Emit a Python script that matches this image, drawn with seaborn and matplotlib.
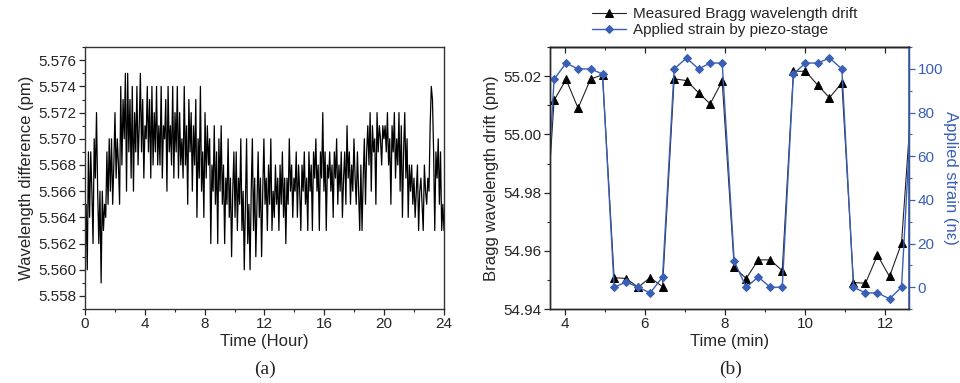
import seaborn as sns
import matplotlib.pyplot as plt
import numpy as np
from matplotlib.ticker import MultipleLocator

# (a) 24 h stability record, wavelength difference in pm
wavelength_diff = [
    5.560, 5.565, 5.560, 5.569, 5.564, 5.569, 5.566, 5.562, 5.570, 5.567, 5.572, 5.566, 5.562,
    5.566, 5.559, 5.566, 5.563, 5.565, 5.564, 5.569, 5.565, 5.570, 5.566, 5.570, 5.565, 5.568,
    5.572, 5.567, 5.570, 5.568, 5.565, 5.574, 5.568, 5.573, 5.570, 5.575, 5.566, 5.575, 5.569,
    5.573, 5.567, 5.574, 5.566, 5.572, 5.569, 5.574, 5.568, 5.571, 5.575, 5.569, 5.573, 5.567,
    5.571, 5.570, 5.574, 5.569, 5.573, 5.567, 5.574, 5.568, 5.572, 5.569, 5.574, 5.568, 5.571,
    5.568, 5.574, 5.567, 5.571, 5.570, 5.573, 5.566, 5.574, 5.569, 5.571, 5.568, 5.574, 5.567,
    5.572, 5.569, 5.574, 5.567, 5.572, 5.568, 5.570, 5.567, 5.574, 5.568, 5.571, 5.565, 5.573,
    5.569, 5.572, 5.566, 5.571, 5.568, 5.573, 5.564, 5.570, 5.567, 5.574, 5.566, 5.569, 5.564,
    5.572, 5.567, 5.571, 5.568, 5.570, 5.562, 5.568, 5.566, 5.571, 5.565, 5.569, 5.562, 5.570,
    5.566, 5.571, 5.565, 5.568, 5.562, 5.567, 5.565, 5.570, 5.564, 5.567, 5.561, 5.566, 5.569,
    5.564, 5.569, 5.563, 5.567, 5.565, 5.570, 5.563, 5.566, 5.560, 5.565, 5.570, 5.562, 5.565,
    5.560, 5.566, 5.570, 5.563, 5.567, 5.561, 5.565, 5.569, 5.564, 5.567, 5.561, 5.566, 5.570,
    5.565, 5.567, 5.563, 5.568, 5.565, 5.570, 5.563, 5.566, 5.564, 5.568, 5.565, 5.567, 5.563,
    5.568, 5.565, 5.569, 5.564, 5.567, 5.562, 5.567, 5.565, 5.570, 5.566, 5.568, 5.564, 5.567,
    5.566, 5.569, 5.564, 5.568, 5.566, 5.563, 5.568, 5.566, 5.569, 5.565, 5.567, 5.563, 5.569,
    5.566, 5.568, 5.563, 5.569, 5.567, 5.570, 5.566, 5.568, 5.563, 5.569, 5.567, 5.572, 5.566,
    5.569, 5.563, 5.568, 5.567, 5.569, 5.566, 5.568, 5.564, 5.569, 5.567, 5.570, 5.565, 5.568,
    5.566, 5.569, 5.564, 5.567, 5.569, 5.565, 5.571, 5.567, 5.569, 5.565, 5.568, 5.566, 5.570,
    5.567, 5.565, 5.569, 5.566, 5.563, 5.568, 5.563, 5.567, 5.570, 5.565, 5.569, 5.571, 5.568,
    5.572, 5.566, 5.571, 5.569, 5.570, 5.565, 5.572, 5.569, 5.571, 5.570, 5.568, 5.571, 5.570,
    5.571, 5.569, 5.572, 5.568, 5.570, 5.565, 5.571, 5.569, 5.572, 5.567, 5.570, 5.568, 5.572,
    5.566, 5.571, 5.564, 5.569, 5.572, 5.567, 5.570, 5.564, 5.568, 5.566, 5.568, 5.565, 5.567,
    5.564, 5.566, 5.568, 5.563, 5.566, 5.567, 5.565, 5.563, 5.568, 5.566, 5.565, 5.567, 5.566,
    5.571, 5.574, 5.573, 5.569, 5.563, 5.569, 5.567, 5.570, 5.565, 5.569, 5.563, 5.565, 5.563,
]
time_hour = np.linspace(0, 24, len(wavelength_diff))

# (b) strain steps from the piezo stage
time_min = [3.43, 3.73, 4.03, 4.33, 4.64, 4.94, 5.23, 5.53, 5.83, 6.13, 6.44,
            6.73, 7.04, 7.34, 7.63, 7.93, 8.23, 8.53, 8.83, 9.13, 9.43,
            9.71, 10.01, 10.32, 10.61, 10.92, 11.21, 11.51, 11.81, 12.11, 12.41, 12.71]
bragg_drift = [54.948, 55.0117, 55.0189, 55.0090, 55.0190, 55.0205, 54.9508, 54.9505, 54.9475, 54.9508, 54.9477,
               55.0191, 55.0185, 55.0143, 55.0105, 55.0183, 54.9544, 54.9505, 54.9569, 54.9569, 54.9532,
               55.0217, 55.0217, 55.0169, 55.0126, 55.0177, 54.9491, 54.9489, 54.9585, 54.9512, 54.9626, 55.0216]
strain = [0, 95.3, 102.7, 100, 100, 97.7, 0, 2.4, 0, -2.6, 4.7,
          100, 105, 100, 102.7, 102.7, 11.9, 0, 4.7, 0, 0,
          97.7, 102.7, 102.7, 105, 100, 0, -2.6, -2.6, -5.3, 0, 100]

blue = "#3a5fb5"

sns.set_theme(style="ticks")
plt.rcParams['font.family'] = ['Liberation Sans', 'DejaVu Sans']
plt.rcParams['axes.linewidth'] = 1.0

fig = plt.figure(figsize=(9.6, 3.83), dpi=100)
ax1 = fig.add_axes([0.0885, 0.193, 0.374, 0.684])
ax2 = fig.add_axes([0.573, 0.193, 0.374, 0.684])

# panel (a)
sns.lineplot(x=time_hour, y=wavelength_diff, ax=ax1, color="black", linewidth=0.9)
ax1.set_xlim(0, 24)
ax1.set_ylim(5.557, 5.577)
ax1.xaxis.set_major_locator(MultipleLocator(4))
ax1.xaxis.set_minor_locator(MultipleLocator(2))
ax1.yaxis.set_major_locator(MultipleLocator(0.002))
ax1.yaxis.set_minor_locator(MultipleLocator(0.001))
ax1.yaxis.set_major_formatter(plt.FormatStrFormatter('%.3f'))
ax1.tick_params(which='major', length=4, width=0.9, labelsize=11, pad=2)
ax1.tick_params(which='minor', length=2.5, width=0.8)
ax1.set_xlabel("Time (Hour)", fontsize=12, labelpad=2)
ax1.set_ylabel("Wavelength difference (pm)", fontsize=12, labelpad=3)
for s in ax1.spines.values():
    s.set_color("#333333")

# panel (b)
sns.lineplot(x=time_min, y=bragg_drift, ax=ax2, color="#222222", linewidth=0.8,
             marker="^", markersize=5.5, markeredgecolor="black", markerfacecolor="black",
             label="Measured Bragg wavelength drift", legend=False)
ax2.set_xlim(3.63, 12.6)
ax2.set_ylim(54.94, 55.03)
ax2.xaxis.set_major_locator(MultipleLocator(2))
ax2.xaxis.set_minor_locator(MultipleLocator(1))
ax2.yaxis.set_major_locator(MultipleLocator(0.02))
ax2.yaxis.set_minor_locator(MultipleLocator(0.01))
ax2.yaxis.set_major_formatter(plt.FormatStrFormatter('%.2f'))
ax2.tick_params(which='major', length=4, width=0.9, labelsize=11, pad=2)
ax2.tick_params(which='minor', length=2.5, width=0.8)
ax2.set_xlabel("Time (min)", fontsize=12, labelpad=2)
ax2.set_ylabel("Bragg wavelength drift (pm)", fontsize=12, labelpad=3)

top = ax2.secondary_xaxis('top')
top.xaxis.set_major_locator(MultipleLocator(2))
top.xaxis.set_minor_locator(MultipleLocator(1))
top.tick_params(which='major', direction='in', length=4, width=0.9, labeltop=False)
top.tick_params(which='minor', direction='in', length=2.5, width=0.8)

ax3 = ax2.twinx()
sns.lineplot(x=time_min, y=strain, ax=ax3, color=blue, linewidth=1.0,
             marker="D", markersize=4.5, markeredgecolor=blue, markerfacecolor=blue,
             label="Applied strain by piezo-stage", legend=False)
ax3.set_ylim(-10, 110)
ax3.yaxis.set_major_locator(MultipleLocator(20))
ax3.yaxis.set_minor_locator(MultipleLocator(10))
ax3.tick_params(axis='y', which='major', length=4, width=0.9, labelsize=11, pad=2,
                colors=blue)
ax3.tick_params(axis='y', which='minor', length=2.5, width=0.8, colors=blue)
ax3.spines['right'].set_color(blue)
ax3.spines['right'].set_linewidth(1.2)
ax3.set_ylabel("Applied strain (nε)", fontsize=12, color=blue, rotation=270, labelpad=11)

h1, l1 = ax2.get_legend_handles_labels()
h2, l2 = ax3.get_legend_handles_labels()
fig.legend(h1 + h2, l1 + l2, loc='lower center', bbox_to_anchor=(0.755, 0.875),
           frameon=False, fontsize=11, handlelength=2.2, handletextpad=0.5,
           labelspacing=0.15, borderpad=0.2)

fig.text(0.276, 0.035, "(a)", fontsize=14, family=['Liberation Serif'], ha='center', va='center')
fig.text(0.761, 0.035, "(b)", fontsize=14, family=['Liberation Serif'], ha='center', va='center')

fig.savefig("out.png", dpi=100)
